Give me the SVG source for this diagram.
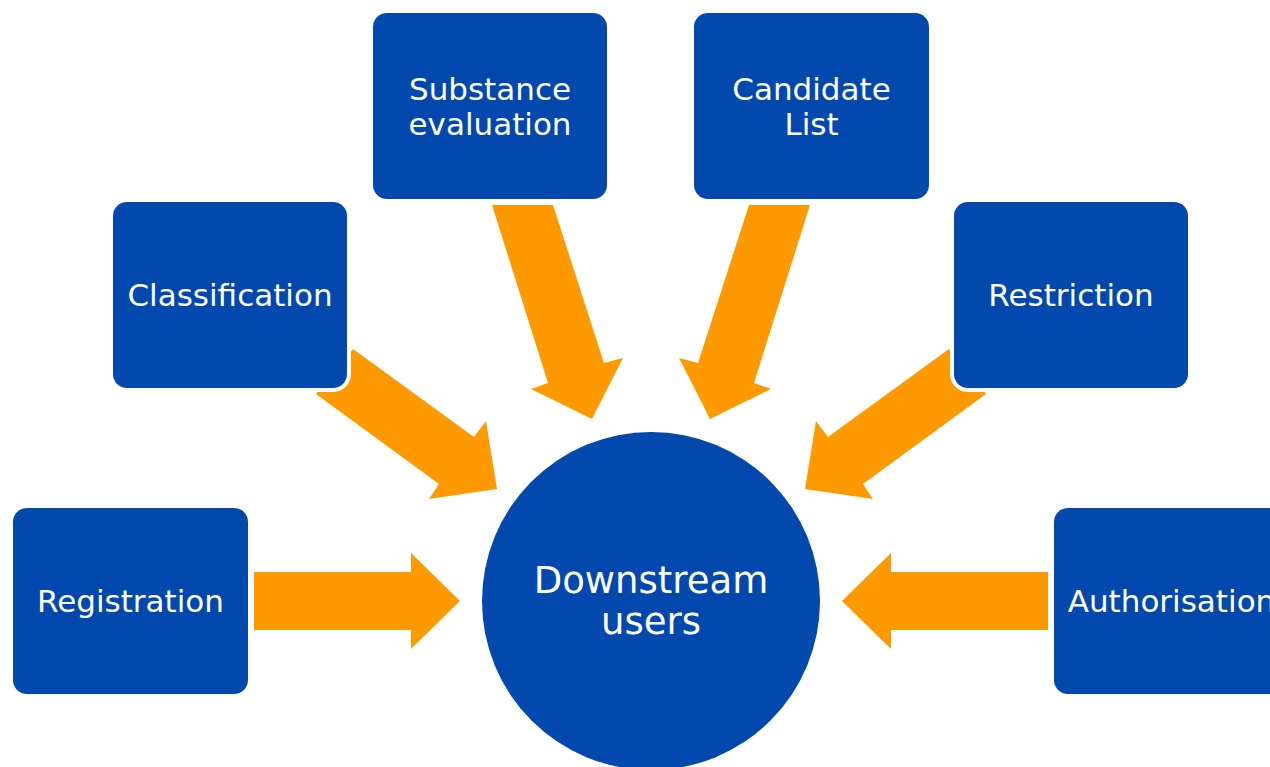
<svg xmlns="http://www.w3.org/2000/svg" width="1270" height="767" viewBox="0 0 1270 767">
<style>
.box{fill:#0248AD;stroke:#ffffff;stroke-width:8;paint-order:stroke}
.lbl{fill:#ffffff;font-family:"DejaVu Sans","Verdana",sans-serif;font-size:31px;text-anchor:middle}
.big{font-size:37px}
.arr{fill:#FF9900}
</style>
<rect width="1270" height="767" fill="#ffffff"/>
<g id="connectors">
<polygon class="arr" points="254,572 411,572 411,553 460,601 411,649 411,630 254,630"/>
<polygon class="arr" points="1048,572 891,572 891,553 842,601 891,649 891,630 1048,630"/>
<polygon class="arr" points="353,349 474,437 486,421 497,489 429,499 439,484 316,394"/>
<polygon class="arr" points="949,349 828,437 816,421 805,489 873,499 863,484 986,394"/>
<polygon class="arr" points="492,205 553,205 604,363 623,358 592,419 531,389 548,383"/>
<polygon class="arr" points="810,205 749,205 698,363 679,358 710,419 771,389 754,383"/>
</g>
<g id="node-substance">
<rect class="box" x="373" y="13" width="234" height="186" rx="14"/>
<text class="lbl" x="490" y="100">Substance</text>
<text class="lbl" x="490" y="135">evaluation</text>
</g>
<g id="node-candidate">
<rect class="box" x="694" y="13" width="235" height="186" rx="14"/>
<text class="lbl" x="811.5" y="100">Candidate</text>
<text class="lbl" x="811.5" y="135">List</text>
</g>
<g id="node-classification">
<rect class="box" x="113" y="202" width="234" height="186" rx="14"/>
<text class="lbl" x="230" y="306">Classification</text>
</g>
<g id="node-restriction">
<rect class="box" x="954" y="202" width="234" height="186" rx="14"/>
<text class="lbl" x="1071" y="306">Restriction</text>
</g>
<g id="node-registration">
<rect class="box" x="13" y="508" width="235" height="186" rx="14"/>
<text class="lbl" x="130.5" y="612">Registration</text>
</g>
<g id="node-authorisation">
<rect class="box" x="1054" y="508" width="235" height="186" rx="14"/>
<text class="lbl" x="1171.5" y="612">Authorisation</text>
</g>
<g id="node-downstream">
<circle cx="651" cy="601" r="169" fill="#0248AD"/>
<text class="lbl big" x="651" y="593">Downstream</text>
<text class="lbl big" x="651" y="634">users</text>
</g>
</svg>
